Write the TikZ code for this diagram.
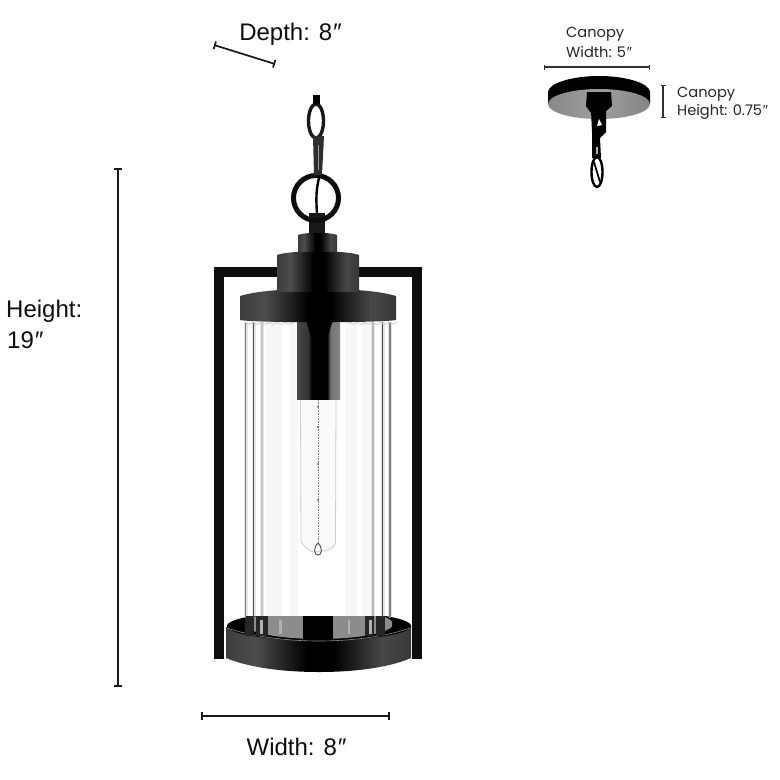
\documentclass[tikz,border=0pt]{standalone}
\usepackage{fontspec}
\setmainfont{Liberation Sans}
\newfontfamily\canopyfont{Poppins}
\newfontfamily\primefont{Liberation Sans}
\usetikzlibrary{arrows.meta}
\newcommand{\dprime}{{\primefont\itshape ″}}
\pgfdeclarehorizontalshading{metalshade}{100bp}{color(0bp)=(black!95); color(20bp)=(black!80); color(33bp)=(black!70); color(47bp)=(black); color(54bp)=(black); color(67bp)=(black!72); color(80bp)=(black!82); color(100bp)=(black!96)}
\pgfdeclarehorizontalshading{socketshade}{100bp}{color(0bp)=(black!85); color(22bp)=(black!70); color(38bp)=(black!80); color(42bp)=(black); color(60bp)=(black); color(64bp)=(black!55); color(82bp)=(black!42); color(100bp)=(black!72)}
\pgfdeclarehorizontalshading{diskshade}{100bp}{color(0bp)=(black!55); color(50bp)=(black!38); color(100bp)=(black!58)}
\tikzset{
	% dimension lines with short end bars
	dimline/.style={draw=black!90,line width=1.7pt,{Bar[width=8pt,length=1.7pt]}-{Bar[width=8pt,length=1.7pt]}},
	smalldim/.style={draw=black!80,line width=1.1pt,{Bar[width=5pt,length=1.1pt]}-{Bar[width=5pt,length=1.1pt]}},
	bigtext/.style={inner sep=0pt,font=\fontsize{24}{28}\selectfont,text=black!95},
	smalltext/.style={inner sep=0pt,anchor=west,font=\canopyfont\fontsize{14.6}{17}\selectfont,text=black!85},
	flute/.style={line width=1.3pt},
	fluteglow/.style={line width=4pt,black!10},
}
\begin{document}
\begin{tikzpicture}[x=1pt,y=-1pt]
	\useasboundingbox (0,0) rectangle (780,780);
	% frame
	\draw[line width=10pt,black!95] (219,659) -- (219,272) -- (417,272) -- (417,659);
	% base
	\path[shading=metalshade] (226,627) -- (226,658) .. controls (250,668) and (285,672) .. (319,672)
	.. controls (353,672) and (388,668) .. (411,658) -- (411,627) -- cycle;
	\fill[black] (319,626) ellipse [x radius=92,y radius=14.5];
	\draw[black!45,line width=.6pt] (227,628) .. controls (250,636) and (285,641) .. (319,641)
	.. controls (353,641) and (388,636) .. (410,628);
	% glass
	\fill[white] (245,320) rectangle (392,616);
	\foreach \x/\w in {266/16,290/8,345/12,362/9}
	\fill[black!3] (\x,322) rectangle (\x+\w,616);
	\begin{scope}
		\clip (245,616) rectangle (392,642);
		\fill[black!45] (319,624) ellipse [x radius=74,y radius=15];
		\fill[black] (303,616) rectangle (333,640);
		\foreach \x/\w in {245/9,256/12,365/9,376/9}
		\fill[black!85] (\x,616) rectangle (\x+\w,636);
		\foreach \x/\w in {260/3,369/3,279/3,348/2}
		\fill[black!30] (\x,620) rectangle (\x+\w,634);
	\end{scope}
	\foreach \x in {245.5,253.5,262,373,382.5,390}
	\draw[fluteglow] (\x,322) -- (\x,616);
	\draw[flute,black!50] (245.5,322) -- (245.5,618);
	\draw[flute,black!70] (253.5,322) -- (253.5,618);
	\draw[flute,black!22] (262,322) -- (262,616);
	\draw[flute,black!28] (373,322) -- (373,616);
	\draw[flute,black!70] (382.5,322) -- (382.5,618);
	\draw[flute,black!50] (390,322) -- (390,618);
	% scallops under the cap
	\foreach \x in {245,253,...,285,349,357,...,389}
	\draw[black!22,line width=.8pt] (\x,322) .. controls (\x+2,325) and (\x+6,325) .. (\x+8,322);
	% bulb
	\path[draw=black!20,fill=black!2,line width=.8pt] (300.5,399) -- (301,541) .. controls (303,546) and (308,550) .. (313,552)
	-- (323,551) .. controls (329,550) and (334,548) .. (335.5,543) -- (336,399);
	\draw[black!50,line width=.6pt,densely dotted] (318,400) -- (318,541);
	\foreach \y in {407,427,464,500}
	\fill[black!55] (318,\y) circle (1.2);
	\draw[black!70,line width=.9pt] (318,543) .. controls (313,548) and (314,555) .. (318,555) .. controls (322,555) and (323,548) .. (318,543);
	% socket
	\path[shading=socketshade] (297,320) rectangle (340,399);
	\fill[black] (306,320) -- (333,320) -- (323,350) -- (315,350) -- cycle;
	% cap and collar
	\path[shading=metalshade] (240,296) .. controls (260,290) and (290,289) .. (318,289)
	.. controls (346,289) and (376,290) .. (396,296) -- (396,320) .. controls (380,323) and (256,323) .. (240,320) -- cycle;
	\path[shading=metalshade] (277,255) .. controls (290,250) and (346,250) .. (359,255) -- (359,292) -- (277,292) -- cycle;
	\path[shading=metalshade] (298,235) .. controls (305,232) and (330,232) .. (337,235) -- (337,252) -- (298,252) -- cycle;
	\fill[black!90] (309,213) rectangle (325,233);
	% ring and chain
	\draw[black!95,line width=5pt] (316,198) circle (22.5);
	\draw[black!90,line width=3.4pt] (316,121) ellipse [x radius=7.5,y radius=17];
	\fill[black] (313,95) rectangle (320,104);
	\fill[black!82] (313,136) -- (324,136) -- (322,175) -- (314,175) -- cycle;
	\draw[black!40,line width=1pt] (318,145) -- (318,170);
	\draw[black,line width=2.4pt] (319,178) .. controls (316,190) and (316,200) .. (317,213);
	% canopy
	\fill[black] (548,92) .. controls (548,84) and (570,76) .. (599,76) .. controls (628,76) and (650,84) .. (650,92) -- (650,104) -- (548,104) -- cycle;
	\path[shading=diskshade] (599,104) ellipse [x radius=51,y radius=15];
	\fill[black] (587,92) -- (611,92) -- (612,106) -- (605,112) -- (590,112) -- (586,106) -- cycle;
	% canopy chain
	\fill[black] (591,110) -- (606,110) -- (606,132) -- (600,138) -- (601,158) -- (592,158) -- (592,132) -- cycle;
	\fill[white] (599,119) -- (602,125) -- (597,126) -- cycle;
	\fill[white!70!black] (596,147) rectangle (598,154);
	\draw[black,line width=2.4pt] (597,172) ellipse [x radius=5.5,y radius=15];
	\draw[black,line width=1.8pt] (594,162) -- (600,182);
	% dimensions
	\coordinate (heightTop) at (118,168);
	\coordinate (heightBot) at (118,687);
	\coordinate (widthL) at (201,716);
	\coordinate (widthR) at (390,716);
	\coordinate (depthL) at (214,45);
	\coordinate (depthR) at (275,64);
	\coordinate (canopyWL) at (544,67);
	\coordinate (canopyWR) at (650,67);
	\coordinate (canopyHT) at (663,85);
	\coordinate (canopyHB) at (663,118);
	\draw[dimline] (heightTop) -- (heightBot);
	\draw[dimline] (widthL) -- (widthR);
	\draw[dimline] (depthL) -- (depthR);
	\draw[smalldim] (canopyWL) -- (canopyWR);
	\draw[smalldim] (canopyHT) -- (canopyHB);
	% labels
	\node[bigtext] (depthLabel) at (290,34) {Depth: 8\dprime};
	\node[bigtext] (widthLabel) at (296,747) {Width: 8\dprime};
	\node[bigtext,anchor=west] (heightLabel) at (6,311) {Height:};
	\node[bigtext,anchor=west] (heightVal) at (7,340) {19\dprime};
	\node[smalltext] (canopyW1) at (566,34) {Canopy};
	\node[smalltext] (canopyW2) at (566,52) {Width: 5\dprime};
	\node[smalltext] (canopyH1) at (677,94) {Canopy};
	\node[smalltext] (canopyH2) at (677,112) {Height: 0.75\dprime};
\end{tikzpicture}
\end{document}
